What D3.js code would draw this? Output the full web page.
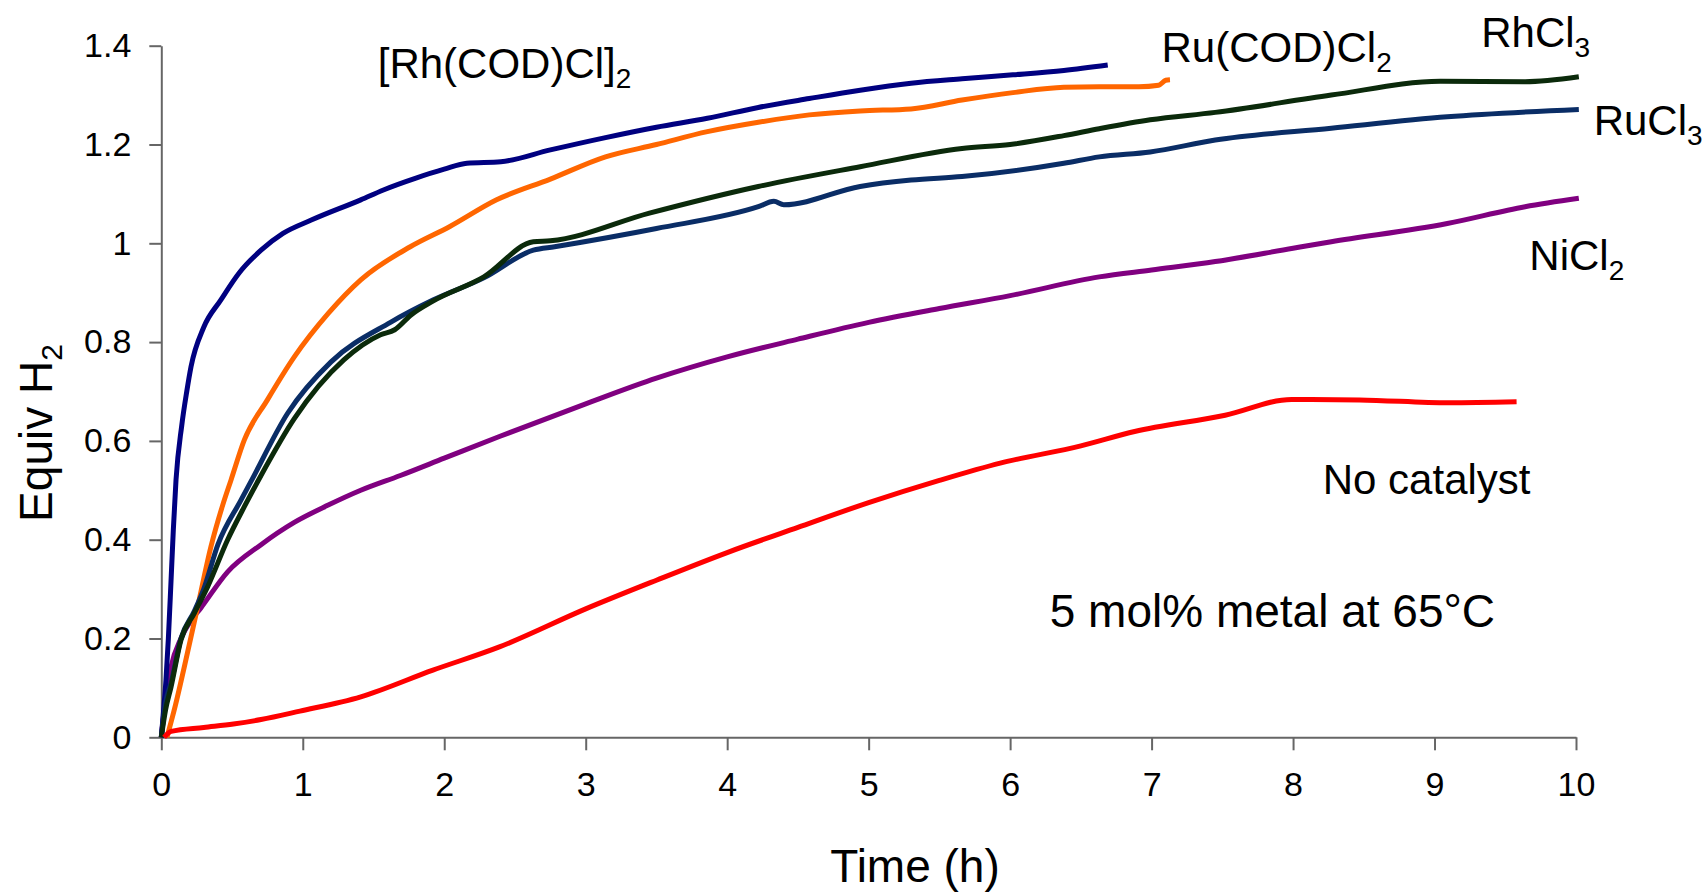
<!DOCTYPE html>
<html>
<head>
<meta charset="utf-8">
<script src="https://cdn.jsdelivr.net/npm/d3@7/dist/d3.min.js"></script>
<style>
  body { margin: 0; background: #fff; }
  text { font-family: Arial, "Liberation Sans", sans-serif; fill: #000; }
</style>
</head>
<body>
<svg width="1705" height="893"></svg>
<script>
// values: [time (h), equiv H2]
var rhCodData = [[0,0],[0.015,0.05],[0.033,0.116],[0.05,0.2],[0.069,0.318],[0.085,0.42],[0.104,0.521],[0.144,0.63],[0.18,0.7],[0.21,0.75],[0.3,0.83],[0.42,0.885],[0.55,0.94],[0.705,0.986],[0.86,1.02],[1.06,1.047],[1.41,1.088],[1.57,1.108],[1.8,1.132],[2.0,1.15],[2.16,1.162],[2.4,1.165],[2.75,1.189],[3.14,1.214],[3.5,1.235],[3.86,1.253],[4.22,1.275],[4.58,1.293],[4.94,1.31],[5.3,1.324],[5.66,1.333],[6.02,1.341],[6.38,1.35],[6.69,1.361]];
var ruCodData = [[0.04,0],[0.1,0.065],[0.163,0.143],[0.257,0.264],[0.351,0.386],[0.434,0.47],[0.493,0.521],[0.587,0.602],[0.75,0.683],[0.94,0.77],[1.18,0.858],[1.41,0.926],[1.76,0.993],[2.04,1.034],[2.37,1.088],[2.75,1.13],[3.14,1.175],[3.5,1.2],[3.86,1.226],[4.22,1.245],[4.58,1.26],[4.94,1.268],[5.3,1.272],[5.66,1.29],[6.02,1.305],[6.38,1.316],[6.63,1.317],[6.91,1.317],[7.05,1.32],[7.1,1.33],[7.13,1.331]];
var rhCl3Data = [[0,0],[0.03,0.055],[0.069,0.102],[0.139,0.197],[0.233,0.251],[0.328,0.305],[0.469,0.4],[0.587,0.467],[0.705,0.53],[0.94,0.645],[1.29,0.764],[1.55,0.815],[1.65,0.825],[1.765,0.855],[1.92,0.883],[2.28,0.932],[2.63,1.003],[2.75,1.005],[3.45,1.061],[4.22,1.115],[4.94,1.155],[5.66,1.192],[6.0,1.2],[6.38,1.218],[6.63,1.232],[6.99,1.25],[7.45,1.265],[8.27,1.3],[9.04,1.328],[9.64,1.327],[10.02,1.337]];
var ruCl3Data = [[0,0],[0.03,0.07],[0.069,0.11],[0.139,0.2],[0.233,0.255],[0.3,0.3],[0.4,0.39],[0.563,0.48],[0.634,0.518],[0.893,0.656],[1.2,0.76],[1.62,0.84],[1.92,0.885],[2.28,0.93],[2.63,0.986],[2.78,0.993],[3.5,1.03],[4.22,1.074],[4.33,1.085],[4.4,1.078],[4.94,1.115],[5.3,1.128],[5.66,1.135],[6.38,1.162],[6.63,1.175],[6.99,1.185],[7.45,1.209],[8.27,1.233],[9.09,1.256],[10.02,1.271]];
var niCl2Data = [[0,0],[0.03,0.08],[0.069,0.143],[0.139,0.2],[0.2,0.232],[0.28,0.262],[0.469,0.335],[0.705,0.39],[0.94,0.435],[1.18,0.47],[1.41,0.5],[1.69,0.53],[2.0,0.565],[2.39,0.609],[3,0.675],[3.5,0.727],[4,0.77],[4.5,0.806],[5,0.84],[5.5,0.868],[6,0.894],[6.63,0.932],[7,0.946],[7.45,0.963],[8,0.99],[8.27,1.003],[9.09,1.04],[9.64,1.074],[10.02,1.091]];
var noCatData = [[0.02,0],[0.069,0.012],[0.3,0.02],[0.51,0.027],[0.705,0.036],[0.98,0.053],[1.41,0.082],[1.92,0.136],[2.39,0.183],[3,0.26],[3.5,0.318],[4,0.374],[4.5,0.425],[5,0.475],[5.5,0.52],[5.93,0.555],[6.5,0.59],[6.88,0.619],[7.52,0.652],[7.99,0.684],[8.47,0.683],[9.1,0.677],[9.58,0.679]];

var xTicks = [0,1,2,3,4,5,6,7,8,9,10];
var yTicks = [0,0.2,0.4,0.6,0.8,1,1.2,1.4];
var yTickLabels = ["0","0.2","0.4","0.6","0.8","1","1.2","1.4"];

var svg = d3.select("svg");

var x = d3.scaleLinear().domain([0, 10]).range([161.3, 1576]);
var y = d3.scaleLinear().domain([0, 1.4]).range([737.3, 45.7]);

// axes
var xAxis = svg.append("g")
    .attr("transform", "translate(0," + y(0) + ")")
    .call(d3.axisBottom(x).tickValues(xTicks).tickSize(13).tickSizeOuter(0).tickPadding(22));
var yAxis = svg.append("g")
    .attr("transform", "translate(" + x(0) + ",0)")
    .call(d3.axisLeft(y).tickValues(yTicks).tickSize(12).tickSizeOuter(0).tickPadding(18)
      .tickFormat(function(d, i) { return yTickLabels[i]; }));

[xAxis, yAxis].forEach(function(a) {
  a.selectAll("path, line").attr("stroke", "#666").attr("stroke-width", 2);
  a.selectAll("text").attr("font-size", 34).attr("fill", "#000")
    .attr("font-family", "Arial, 'Liberation Sans', sans-serif");
});

// curves, drawn back to front
var series = [
  {data: niCl2Data, color: "#800080"},
  {data: rhCodData, color: "#000080"},
  {data: ruCodData, color: "#ff6600"},
  {data: ruCl3Data, color: "#0a2d66"},
  {data: rhCl3Data, color: "#0b2a0b"},
  {data: noCatData, color: "#ff0000"}
];

var line = d3.line()
    .x(function(d) { return x(d[0]); })
    .y(function(d) { return y(d[1]); })
    .curve(d3.curveMonotoneX);

svg.append("g").selectAll("path")
  .data(series).enter()
  .append("path")
    .attr("d", function(d) { return line(d.data); })
    .attr("fill", "none")
    .attr("stroke", function(d) { return d.color; })
    .attr("stroke-width", 5)
    .attr("stroke-linejoin", "round");

// labels with subscripts
function label(px, py, main, sub, size) {
  var t = svg.append("text").attr("x", px).attr("y", py).attr("font-size", size || 42);
  t.append("tspan").text(main);
  if (sub) t.append("tspan").attr("font-size", 28).attr("dy", 10).text(sub);
  return t;
}
label(x(1.53), y(1.335), "[Rh(COD)Cl]", "2");
label(x(7.07), y(1.367), "Ru(COD)Cl", "2");
label(x(9.33), y(1.397), "RhCl", "3");
label(x(10.125), y(1.219), "RuCl", "3");
label(x(9.67), y(0.946), "NiCl", "2");
label(x(8.21), y(0.492), "No catalyst");
label(x(6.28), y(0.224), "5 mol% metal at 65\u00b0C", null, 46);

// axis titles
svg.append("text")
    .attr("x", 915).attr("y", 882)
    .attr("text-anchor", "middle")
    .attr("font-size", 46)
    .text("Time (h)");

var yt = svg.append("text")
    .attr("transform", "translate(52,433) rotate(-90)")
    .attr("text-anchor", "middle")
    .attr("font-size", 46);
yt.append("tspan").text("Equiv H");
yt.append("tspan").attr("font-size", 30).attr("dy", 10).text("2");
</script>
</body>
</html>
